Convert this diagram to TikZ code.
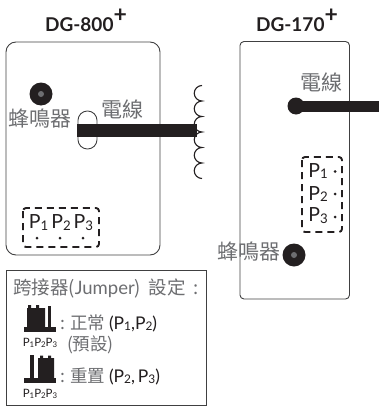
\documentclass[tikz,border=0pt]{standalone}
\usepackage{fontspec}
\setmainfont{Lato}
\newfontfamily\cjk{Noto Sans CJK TC}
\usetikzlibrary{calc}
\definecolor{ink}{HTML}{231F20}
\definecolor{grayt}{HTML}{6D6E71}
\definecolor{edge}{HTML}{404041}
\newcommand{\subd}[1]{\raisebox{-0.1em}{\scalebox{0.68}{#1}}}
\newcommand{\pa}{P\subd{1}}
\newcommand{\pb}{P\subd{2}}
\newcommand{\pc}{P\subd{3}}
\newcommand{\lat}[1]{{\fontspec{Lato}\fontsize{17.5}{20}\selectfont\color{ink}#1}}
\tikzset{
  x=1pt,y=-1pt,
  every node/.style={inner sep=0pt,outer sep=0pt,text=ink},
  title/.style={font=\fontsize{19}{20}\selectfont\bfseries,anchor=center},
  cjktext/.style={font=\cjk\fontsize{21}{22}\selectfont,text=grayt,anchor=center},
  legendtext/.style={font=\cjk\fontsize{17.5}{18}\selectfont,text=grayt,anchor=west},
  pin/.style={font=\fontsize{19.5}{20}\selectfont,anchor=center},
  tiny/.style={font=\fontsize{11.5}{12}\selectfont,anchor=center},
  board/.style={draw=edge,line width=0.9pt},
  dashbox/.style={draw=ink,line width=1.9pt,dash pattern=on 7pt off 5pt,rounded corners=3pt},
  wire/.style={draw=ink,line width=12.5pt},
  pindot/.style={circle,fill=ink,minimum size=3pt},
}
\begin{document}
\begin{tikzpicture}
\useasboundingbox (0,0) rectangle (379,407);
% titles
\node[title] (t800) at (86,20.5) {DG-800\raisebox{0.45em}{\textbf{\fontsize{23}{23}\selectfont +}}};
\node[title] (t170) at (297,20.5) {DG-170\raisebox{0.45em}{\textbf{\fontsize{23}{23}\selectfont +}}};
% DG-800
\draw[board,rounded corners=10pt] (6,42) rectangle (160,255);
\draw[board,fill=white,rounded corners=9.4pt] (78,111) rectangle (97,149);
\coordinate (w8a) at (77,130.5);
\coordinate (w8b) at (197,130.5);
\draw[wire] (w8a) -- (w8b);
\draw[draw=ink,line width=1.1pt]
  (202,85.5) arc (270:90:7.75) arc (270:90:7.75) arc (270:90:7.75)
  arc (270:90:7.75) arc (270:90:7.75) arc (270:90:7.75);
\node[circle,fill=ink,minimum size=23pt] (bz8) at (41,94) {};
\node[circle,fill=grayt,minimum size=6pt] (bz8i) at (41,94) {};
\node[cjktext] (lb8) at (40.5,119) {蜂鳴器};
\node[cjktext] (lw8) at (122.5,109.5) {電線};
\draw[dashbox] (23,208) rectangle (99,247);
\node[pin] (p8) at (61,223) {\pa\hspace{0.15em}\pb\hspace{0.15em}\pc};
\node[pindot] (d81) at (37,238) {};
\node[pindot] (d82) at (60,238) {};
\node[pindot] (d83) at (83,238) {};
% DG-170
\draw[board,rounded corners=4pt] (240,41.5) rectangle (349.5,299);
\coordinate (w1a) at (296,106);
\coordinate (w1b) at (379,106);
\draw[wire,line width=11pt] (w1a) -- (w1b);
\node[circle,fill=ink,minimum size=17pt] (blob) at (296,106) {};
\node[cjktext] (lw1) at (321.5,82.5) {電線};
\draw[dashbox] (302,157) rectangle (342,232);
\node[pin] (p1) at (318,171) {\pa};
\node[pin] (p2) at (318,194) {\pb};
\node[pin] (p3) at (318,216) {\pc};
\node[pindot] (d11) at (335,171.5) {};
\node[pindot] (d12) at (335,194) {};
\node[pindot] (d13) at (335,217) {};
\node[cjktext] (lb1) at (249,252) {蜂鳴器};
\node[circle,fill=ink,minimum size=23pt] (bz1) at (294,255) {};
\node[circle,fill=grayt,minimum size=6pt] (bz1i) at (294,255) {};
% legend
\draw[board,fill=white] (6,270) rectangle (206,405);
\node[legendtext,font=\cjk\fontsize{18.5}{19}\selectfont] (lg) at (13,288.5) {跨接器(\fontspec{Lato}Jumper\cjk)\hspace{0.2em} 設定\hspace{0.2em} :};
% jumper 1
\fill[ink] (24,327) rectangle (56,332);
\fill[ink] (27,308) -- (28,308) -- (28,305) -- (31,305) -- (31,308) -- (36,308) -- (36,305) -- (39,305) -- (39,308) -- (45,308) -- (45,327) -- (27,327) -- cycle;
\fill[ink] (47.5,306) rectangle (51,327);
\node[legendtext] (n1) at (60,323) {: 正常 \lat{(\pa,\pb)}};
\node[tiny] (s1) at (40,342.5) {\pa\pb\pc};
\node[legendtext] (n1b) at (67,345) {(預設)};
% jumper 2
\fill[ink] (24,378) rectangle (56,383);
\fill[ink] (30,355) rectangle (33.5,378);
\fill[ink] (38,358) -- (40,358) -- (40,355.5) -- (43,355.5) -- (43,358) -- (48,358) -- (48,355.5) -- (51,355.5) -- (51,358) -- (54,358) -- (54,378) -- (38,378) -- cycle;
\node[legendtext] (n2) at (60,376) {: 重置 \lat{(\pb,\,\pc)}};
\node[tiny] (s2) at (40,393.5) {\pa\pb\pc};
\end{tikzpicture}
\end{document}
